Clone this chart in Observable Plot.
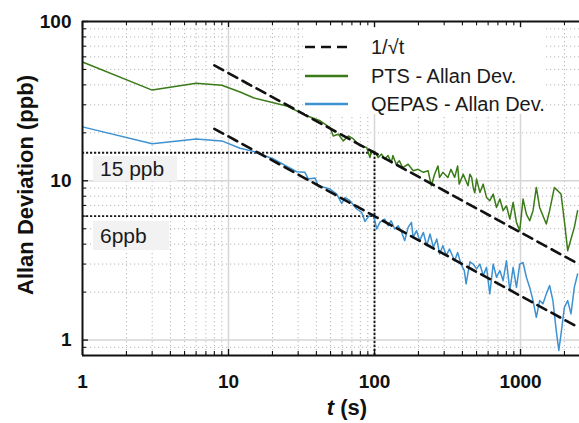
<!DOCTYPE html>
<html><head><meta charset="utf-8">
<script src="https://cdn.jsdelivr.net/npm/d3@7"></script>
<script src="https://cdn.jsdelivr.net/npm/@observablehq/plot@0.6"></script>
<style>
body{margin:0;background:#fff;}
#wrap{position:relative;width:579px;height:423px;overflow:hidden;font-family:"Liberation Sans",Arial,sans-serif;color:#111;}
#wrap svg{position:absolute;left:0;top:0;}
.ylab{position:absolute;left:26px;top:185px;transform:translate(-50%,-50%) rotate(-90deg);white-space:nowrap;font-weight:bold;font-size:22px;line-height:22px;}
.xlab{position:absolute;left:347px;top:397px;transform:translateX(-50%);white-space:nowrap;font-weight:bold;font-size:22px;line-height:22px;}
.legend{position:absolute;left:305px;top:28px;width:241px;height:86px;background:#fff;}
.legend .row{position:absolute;left:0;height:20px;width:241px;}
.legend svg{position:absolute;left:12px;top:0;}
.legend span{position:absolute;left:66px;top:0;font-size:20px;line-height:20px;white-space:nowrap;color:#1a1a1a;}
.ann{position:absolute;background:#f2f2f2;font-size:21px;padding-left:7px;box-sizing:border-box;color:#1a1a1a;white-space:nowrap;}
</style></head><body><div id="wrap"></div>
<script>
// ---- data ----
const ptsT = [1,3,6,9,12,14.8,25,34.3,42.4,49.6,52.2,56.5,61.1,66.2,71.6,79.4,88.4,93.1,95.6,100.7,106,111.7,117.6,123.7,130.3,133.7,140.7,148,155.8,170,184,199,216,233,245,258,272,279,294,318,334,354,371,380,405,437,450,463,474,486,500,527,555,585,616,650,685,722,760,801,845,890,938,988,1041,1097,1156,1218,1283,1352,1425,1502,1582,1706,1797,1894,1996,2104,2217,2336,2461];
const ptsV = [55.7,37.1,41.0,39.8,36.1,33.2,29.5,25.6,23.8,21.6,19.1,19.6,17.8,19.1,18.3,16.6,16.2,14.0,15.4,15.2,14.0,14.7,13.7,14.4,13.0,14.4,12.7,13.35,12.1,12.7,11.55,11.8,11.3,11.55,9.3,11.0,12.4,10.5,11.3,10.5,11.8,10.5,12.4,9.53,11.0,9.3,11.0,10.5,9.08,8.4,10.25,8.45,9.53,7.86,7.5,8.25,6.8,7.68,6.49,6.97,5.75,7.31,5.48,4.86,7.68,6.18,5.61,6.49,9.08,6.8,6.03,5.35,6.49,9.08,8.67,8.25,5.61,3.64,4.31,5.1,6.49];
const qepasT = [1,3,6,9,12,14.8,20.3,29.3,33.4,35.2,39.1,41.2,49.6,55.1,59.6,62.8,67.9,75.5,81.7,86.1,90.7,98.1,103.5,109,117.6,123.7,130,137.6,145,152,161,170,179,184,194,204,216,228,240,253,267,279,294,310,326,354,371,391,412,424,450,474,500,527,555,585,616,650,685,722,760,801,845,890,938,988,1041,1097,1156,1218,1283,1352,1425,1502,1582,1667,1756,1829,1894,1996,2104,2217,2336,2461];
const qepasV = [21.8,17.1,18.3,17.8,16.0,15.3,13.7,11.4,11.3,10.25,10.4,9.3,8.87,8.25,7.2,7.85,7.5,6.65,6.33,5.56,5.95,6.18,4.98,5.5,5.75,5.22,5.61,4.98,5.22,4.86,4.21,5.1,5.48,4.41,4.86,4.21,4.74,3.91,4.63,3.82,4.31,3.47,3.91,3.39,3.73,3.15,3.55,3.0,2.73,2.25,3.1,3.0,2.8,3.0,2.54,2.86,1.95,3.0,2.48,2.73,2.36,3.15,2.04,2.86,2.14,3.0,3.07,2.48,2.14,1.77,1.39,1.77,1.69,1.95,2.2,1.77,1.15,0.86,1.09,1.6,1.77,1.46,2.14,2.6];
const guideT = [8, 2535];
const guidePtsV = [53.0, 2.98];
const guideQepasV = [21.2, 1.19];
const refLevels = [15, 6];
const refTime = [100];
const xTickLabels = [1, 10, 100, 1000];
const yTickLabels = [1, 10, 100];
const legendNames = ["1/\u221At", "PTS - Allan Dev.", "QEPAS - Allan Dev."];
const annotationTexts = ["15 ppb", "6ppb"];
const xTitle = "(s)";
const yTitle = "Allan Deviation (ppb)";

// ---- layout / style ----
const W = 579, H = 423, mL = 82, mR = 0, mT = 21, mB = 68;
const innerW = W - mL - mR, innerH = H - mT - mB;
const xDomain = [1, 2535], yDomain = [0.8, 100];
const green = "#3a7b18", blue = "#3d92d2";

const minorOf = (lo, hi, dom) => {
  const a = [];
  for (let e = lo; e < hi; e++) for (let m = 2; m <= 9; m++) {
    const v = +(m * Math.pow(10, e)).toPrecision(6);
    if (v >= dom[0] && v <= dom[1]) a.push(v);
  }
  return a;
};
const xMinor = minorOf(0, 4, xDomain);
const yMinor = minorOf(-1, 2, yDomain);
const xMajor = [1, 10, 100, 1000];
const yMajor = [1, 10, 100];

const pts = ptsT.map((t, i) => ({t, v: ptsV[i]}));
const qepas = qepasT.map((t, i) => ({t, v: qepasV[i]}));
const g1 = guideT.map((t, i) => ({t, v: guidePtsV[i]}));
const g2 = guideT.map((t, i) => ({t, v: guideQepasV[i]}));

const chart = Plot.plot({
  width: W, height: H,
  marginLeft: mL, marginRight: mR, marginTop: mT, marginBottom: mB,
  x: {type: "log", domain: xDomain, axis: null},
  y: {type: "log", domain: yDomain, axis: null},
  style: {fontFamily: "'Liberation Sans', Arial, sans-serif", color: "#111", background: "white"},
  marks: [
    Plot.ruleX(xMinor, {stroke: "#b8b8b8", strokeWidth: 1, strokeDasharray: "1.2,2.8"}),
    Plot.ruleY(yMinor, {stroke: "#b8b8b8", strokeWidth: 1, strokeDasharray: "1.2,2.8"}),
    Plot.ruleX([10, 100, 1000], {stroke: "#d6d6d6", strokeWidth: 1.5}),
    Plot.ruleY([1, 10], {stroke: "#d6d6d6", strokeWidth: 1.5}),
    Plot.ruleY(refLevels, {x1: 1, x2: refTime[0], stroke: "#1a1a1a", strokeWidth: 1.9, strokeDasharray: "2.2,1.8"}),
    Plot.ruleX(refTime, {y1: yDomain[0], y2: refLevels[0], stroke: "#1a1a1a", strokeWidth: 1.9, strokeDasharray: "2.2,1.8"}),
    Plot.line(pts, {x: "t", y: "v", stroke: green, strokeWidth: 1.5, clip: true}),
    Plot.line(qepas, {x: "t", y: "v", stroke: blue, strokeWidth: 1.5, clip: true}),
    Plot.line(g1, {x: "t", y: "v", stroke: "#111", strokeWidth: 2.6, strokeDasharray: "10,6", clip: true}),
    Plot.line(g2, {x: "t", y: "v", stroke: "#111", strokeWidth: 2.6, strokeDasharray: "10,6", clip: true}),
    // frame lines
    Plot.ruleX([xDomain[0]], {stroke: "#111", strokeWidth: 2}),
    Plot.ruleY([yDomain[0]], {stroke: "#111", strokeWidth: 2}),
    Plot.ruleY([yDomain[1]], {stroke: "#111", strokeWidth: 2}),
    // inward ticks
    Plot.tickX(xMajor, {x: d => d, insetTop: innerH - 6, stroke: "#111", strokeWidth: 1.3}),
    Plot.tickX(xMinor, {x: d => d, insetTop: innerH - 4, stroke: "#111", strokeWidth: 1.1}),
    Plot.tickX(xMajor, {x: d => d, insetBottom: innerH - 6, stroke: "#111", strokeWidth: 1.3}),
    Plot.tickX(xMinor, {x: d => d, insetBottom: innerH - 4, stroke: "#111", strokeWidth: 1.1}),
    Plot.tickY(yMajor, {y: d => d, insetRight: innerW - 6, stroke: "#111", strokeWidth: 1.3}),
    Plot.tickY(yMinor, {y: d => d, insetRight: innerW - 4, stroke: "#111", strokeWidth: 1.1}),
    // tick labels
    Plot.axisX(xTickLabels, {tickSize: 0, tickPadding: 19, tickFormat: d => String(d), fontSize: 19, fontWeight: "bold", label: null}),
    Plot.axisY(yTickLabels, {tickSize: 0, tickPadding: 11, tickFormat: d => String(d), fontSize: 19, fontWeight: "bold", label: null})
  ]
});

const wrap = document.getElementById("wrap");
wrap.appendChild(chart);

// axis titles
const yl = document.createElement("div"); yl.className = "ylab"; yl.textContent = yTitle; wrap.appendChild(yl);
const xl = document.createElement("div"); xl.className = "xlab"; xl.innerHTML = "<i>t</i> " + xTitle; wrap.appendChild(xl);

// legend
const leg = document.createElement("div"); leg.className = "legend";
const legStyles = [{c: "#111", w: 2.6, d: "10,6"}, {c: green, w: 2.5, d: null}, {c: blue, w: 2.5, d: null}];
const legRowsY = [9, 38, 66];
legendNames.forEach((name, i) => {
  const row = document.createElement("div"); row.className = "row"; row.style.top = legRowsY[i] + "px";
  const s = legStyles[i];
  row.innerHTML = `<svg width="44" height="20"><line x1="0" x2="43" y1="10" y2="10" stroke="${s.c}" stroke-width="${s.w}" ${s.d ? `stroke-dasharray="${s.d}"` : ""}/></svg><span></span>`;
  row.querySelector("span").textContent = name;
  leg.appendChild(row);
});
wrap.appendChild(leg);

// annotation boxes
const annBoxes = [{l: 93, t: 156, w: 84, h: 25}, {l: 93, t: 221, w: 76, h: 29}];
annotationTexts.forEach((txt, i) => {
  const b = annBoxes[i];
  const d = document.createElement("div"); d.className = "ann";
  Object.assign(d.style, {left: b.l + "px", top: b.t + "px", width: b.w + "px", height: b.h + "px", lineHeight: b.h + "px"});
  d.textContent = txt; wrap.appendChild(d);
});
</script></body></html>
